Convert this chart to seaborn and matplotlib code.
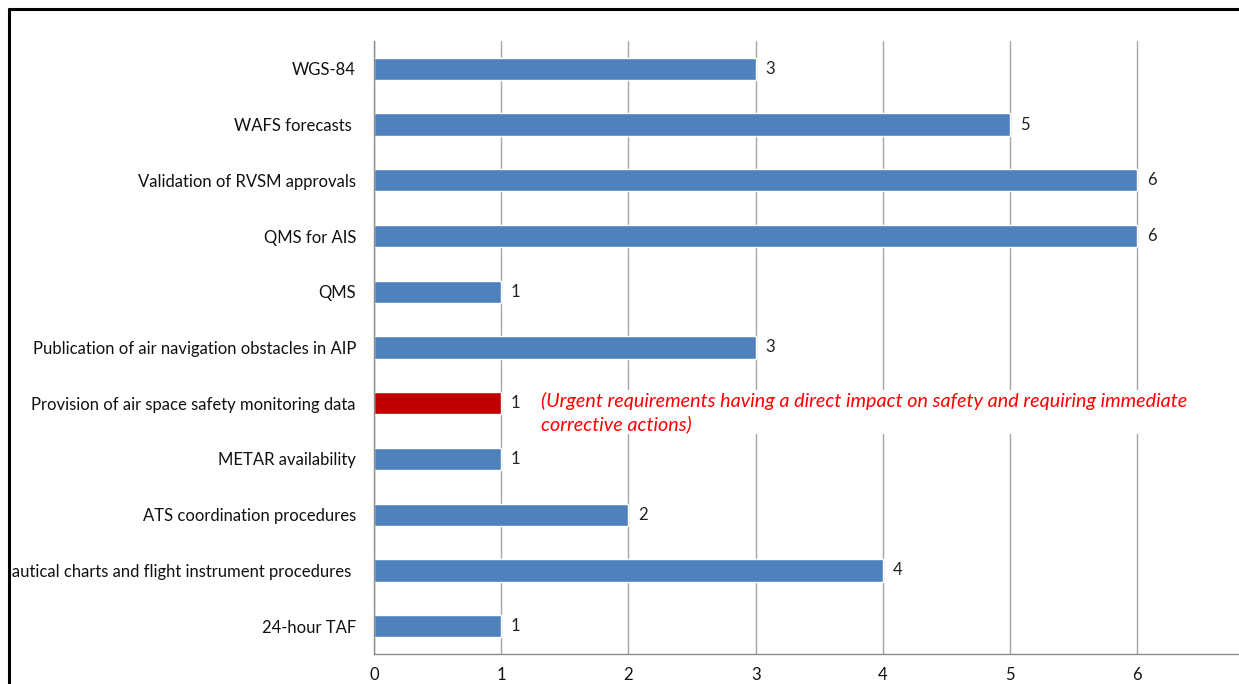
import matplotlib
matplotlib.use("Agg")
import matplotlib.pyplot as plt
from matplotlib.patches import Rectangle
import seaborn as sns
import pandas as pd
import numpy as np

# data, top to bottom as in the chart
categories = [
    "WGS-84",
    "WAFS forecasts ",
    "Validation of RVSM approvals",
    "QMS for AIS",
    "QMS",
    "Publication of air navigation obstacles in AIP",
    "Provision of air space safety monitoring data",
    "METAR availability",
    "ATS coordination procedures",
    "Aeronautical charts and flight instrument procedures ",
    "24-hour TAF",
]
counts = [3, 5, 6, 6, 1, 3, 1, 1, 2, 4, 1]
urgent = [False, False, False, False, False, False, True, False, False, False, False]
x_ticks = [0, 1, 2, 3, 4, 5, 6]
note = ("(Urgent requirements having a direct impact on safety and requiring immediate\n"
        "corrective actions)")

df = pd.DataFrame({"category": categories, "count": counts,
                   "kind": ["urgent" if u else "normal" for u in urgent]})

sns.set_style("white")
plt.rcParams["font.family"] = ["Lato", "DejaVu Sans"]

fig = plt.figure(figsize=(12.39, 6.84), dpi=100)
ax = fig.add_axes([374 / 1239, 30 / 684, 1 - 374 / 1239, 613 / 684])

sns.barplot(data=df, x="count", y="category", hue="kind", orient="h",
            palette={"normal": "#4F81BD", "urgent": "#C00000"},
            width=0.4, dodge=False, legend=False, ax=ax, saturation=1)

ax.set_xlim(0, 6.8)
ax.set_ylim(10.5, -0.5)
ax.set_xticks(x_ticks)
ax.set_xticklabels([str(t) for t in x_ticks], fontsize=12)
ax.set_yticks(np.arange(-0.5, len(categories), 1), minor=True)
ax.tick_params(axis="y", which="major", length=0, pad=13, labelsize=12, labelcolor="#111111")
ax.tick_params(axis="y", which="minor", length=5, width=1, color="#8c8c8c", direction="out")
ax.tick_params(axis="x", which="major", length=5, width=1, color="#8c8c8c", direction="out",
               pad=4, labelsize=12, labelcolor="#111111")
ax.set_xlabel("")
ax.set_ylabel("")
ax.grid(axis="x", color="#a6a6a6", linewidth=1)
ax.set_axisbelow(True)
for s in ["top", "right"]:
    ax.spines[s].set_visible(False)
for s in ["left", "bottom"]:
    ax.spines[s].set_color("#8c8c8c")
    ax.spines[s].set_linewidth(1)

# value labels
for i, v in enumerate(counts):
    ax.annotate(str(v), (v, i), xytext=(7, 0), textcoords="offset points",
                va="center", ha="left", fontsize=12, color="#222222")

ax.text(1.31, 6.16, note, color="#FF0000", style="italic", fontsize=14.2,
        va="center", ha="left", linespacing=1.35,
        bbox=dict(facecolor="white", edgecolor="none", pad=1))

# screenshot frame: cropped on the left, black border top and left
fig.patches.append(Rectangle((0, 0), 9 / 1239, 1, transform=fig.transFigure,
                             facecolor="white", edgecolor="none", zorder=10))
fig.lines.append(plt.Line2D([9 / 1239, 9 / 1239], [0, 1 - 9 / 684], transform=fig.transFigure,
                            color="black", linewidth=2.2, zorder=11))
fig.lines.append(plt.Line2D([9 / 1239, 1], [1 - 9 / 684, 1 - 9 / 684], transform=fig.transFigure,
                            color="black", linewidth=2.2, zorder=11))

fig.savefig("out.png", dpi=100)
